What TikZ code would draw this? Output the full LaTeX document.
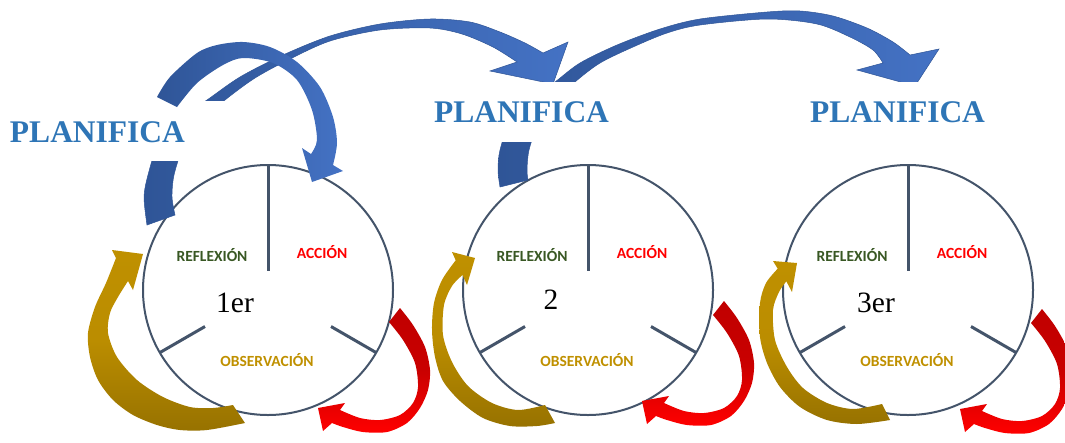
\documentclass[tikz,border=0pt]{standalone}
\usepackage{fontspec}
\setmainfont{Liberation Serif}
\newfontfamily\lblfont{Carlito}
\definecolor{ringcol}{HTML}{44546A}
\definecolor{reflcol}{HTML}{385723}
\definecolor{acccol}{HTML}{FF0000}
\definecolor{obscol}{HTML}{BF9000}
\definecolor{plancol}{HTML}{2E75B6}
\definecolor{bluedark}{HTML}{2F5597}
\definecolor{bluelight}{HTML}{4472C4}
\definecolor{golddark}{HTML}{977200}
\definecolor{goldlight}{HTML}{BF9000}
\definecolor{reddark}{HTML}{C00000}
\definecolor{redlight}{HTML}{FF0000}
\begin{document}
\begin{tikzpicture}[x=1pt,y=-1pt,
  ringline/.style={circle,draw=ringcol,line width=2pt,minimum size=250pt,inner sep=0pt},
  spoke/.style={draw=ringcol,line width=3pt},
  lab/.style={font={\lblfont\bfseries\fontsize{15.5}{18}\selectfont},inner sep=0pt,anchor=base},
  num/.style={font={\fontsize{29.5}{32}\selectfont},inner sep=0pt,anchor=base},
  plantext/.style={font={\bfseries\fontsize{31.5}{36}\selectfont},text=plancol,inner sep=0pt,anchor=base},
  bigblue/.style={left color=bluedark,right color=bluelight,draw=bluedark,line width=0.5pt},
  loopblue/.style={left color=bluedark,right color=bluelight},
  goldarrow/.style={top color=goldlight,bottom color=golddark,middle color=goldlight!90!golddark},
  redarrow/.style={top color=reddark,bottom color=redlight,middle color=reddark!85!redlight},
  whitebox/.style={fill=white}]
\useasboundingbox (0,0) rectangle (1065,442);
\clip (0,0) rectangle (1065,442);

% circles and spokes
\foreach \i/\cx in {1/268,2/588,3/908}{
  \node[ringline] (c\i) at (\cx,290) {};
  \draw[spoke] (\cx,165) -- (\cx,271);
  \draw[spoke] (\cx-108,352.5) -- (\cx-63,326.5);
  \draw[spoke] (\cx+63,326.5) -- (\cx+108,352.5);
}

% big arrow 1 (circle 1 -> circle 2)
\path[bigblue] plot[smooth] coordinates {(147,225) (144,197) (148,175) (158,145) (180,118) (207,100) (240,77) (283,55) (330,36) (380,24) (430,19) (470,22) (500,32) (525,43) (543,53)}
  -- (568,42) -- (553,84) -- (490,71)
  -- plot[smooth] coordinates {(517,62) (493,47) (462,34) (430,28) (380,30) (330,41) (290,59) (255,78) (225,100) (200,122) (183,148) (174,175) (172,197) (175,215)} -- cycle;

% big arrow 2 (circle 2 -> circle 3)
\path[bigblue] plot[smooth] coordinates {(500,187) (498,170) (500,150) (510,122) (530,100) (555,82) (580,63) (617,45) (660,29) (700,19) (767,12) (800,11) (833,16) (867,28) (893,42) (910,55)}
  -- (939,49) -- (915,86) -- (857,70)
  -- plot[smooth] coordinates {(883,63) (873,50) (850,37) (817,24) (767,19) (700,25) (667,33) (633,47) (600,63) (575,82) (555,102) (538,125) (529,150) (527,170) (528,180)} -- cycle;

% white boxes behind the titles
\path[whitebox] (0,101) rectangle (236,161);
\path[whitebox] (420,82) rectangle (625,142);
\path[whitebox] (790,82) rectangle (1000,142);

\node[plantext] (p1) at (97.5,142) {PLANIFICA};
\node[plantext] (p2) at (521.5,122) {PLANIFICA};
\node[plantext] (p3) at (897.5,122) {PLANIFICA};

% blue loop arrow on circle 1
\path[loopblue] plot[smooth] coordinates {(157,97) (170,77) (197,53) (217,45) (243,42) (270,47) (297,62) (320,87) (333,117) (337,143) (333,165)}
  -- (343,171) -- (312,182) -- (302,148)
  -- plot[smooth] coordinates {(311,154) (317,140) (312,110) (297,80) (273,63) (243,58) (223,65) (197,83) (177,107)} -- cycle;

% gold arrows
\path[goldarrow] plot[smooth] coordinates {(245,423) (207,430) (180,430) (157,425) (133,415) (113,400) (98,380) (90,357) (88,333) (95,307) (106,283) (116,258)}
  -- (112,250) -- (143,254) -- (133,290)
  -- plot[smooth] coordinates {(128,281) (118,297) (110,313) (108,333) (117,357) (137,380) (163,397) (190,407) (213,408) (233,405)} -- cycle;
\path[goldarrow] plot[smooth] coordinates {(555,423) (537,426) (510,426) (483,418) (460,401) (443,381) (435,357) (432,330) (434,303) (442,280) (455.7,260.3)}
  -- (452,252) -- (475,258) -- (467,285)
  -- plot[smooth] coordinates {(462.5,275) (452,286) (444,305) (443,335) (452,362) (468,386) (492,403) (518,410) (545,405)} -- cycle;
\path[goldarrow] plot[smooth] coordinates {(890,420) (857,424) (827,420) (800,407) (780,387) (767,363) (760,337) (760,303) (766,283) (777.7,268.7)}
  -- (773,261) -- (797,263) -- (792,292)
  -- plot[smooth] coordinates {(786.3,281.3) (779,292) (773,310) (775,340) (787,367) (803,388) (827,403) (853,409) (882,404)} -- cycle;

% red arrows (same shape, shifted per circle)
\foreach \i/\dx/\dy in {1/0/0,2/324/-7,3/642/1}{
\begin{scope}[shift={(\dx,\dy)}]
\path[redarrow] plot[smooth] coordinates {(400,308) (413,325) (425,347) (430,370) (428,390) (420,408) (407,423) (387,432) (363,432) (343,427) (332,423)}
  -- (323,431) -- (318,408) -- (345,403)
  -- plot[smooth] coordinates {(340,410) (360,418) (380,420) (400,415) (413,403) (418,387) (415,363) (403,340) (389,322)} -- cycle;
\end{scope}
}

% labels
\foreach \i/\cx in {1/268,2/588,3/908}{
  \node[lab,text=reflcol] (r\i) at (\cx-56,261) {REFLEXIÓN};
  \node[lab,text=acccol] (a\i) at (\cx+54,258) {ACCIÓN};
  \node[lab,text=obscol] (o\i) at (\cx-1,366) {OBSERVACIÓN};
}
\node[num] (n1) at (235,312) {1er};
\node[num] (n2) at (551,309) {2};
\node[num] (n3) at (876,312) {3er};
\end{tikzpicture}
\end{document}
